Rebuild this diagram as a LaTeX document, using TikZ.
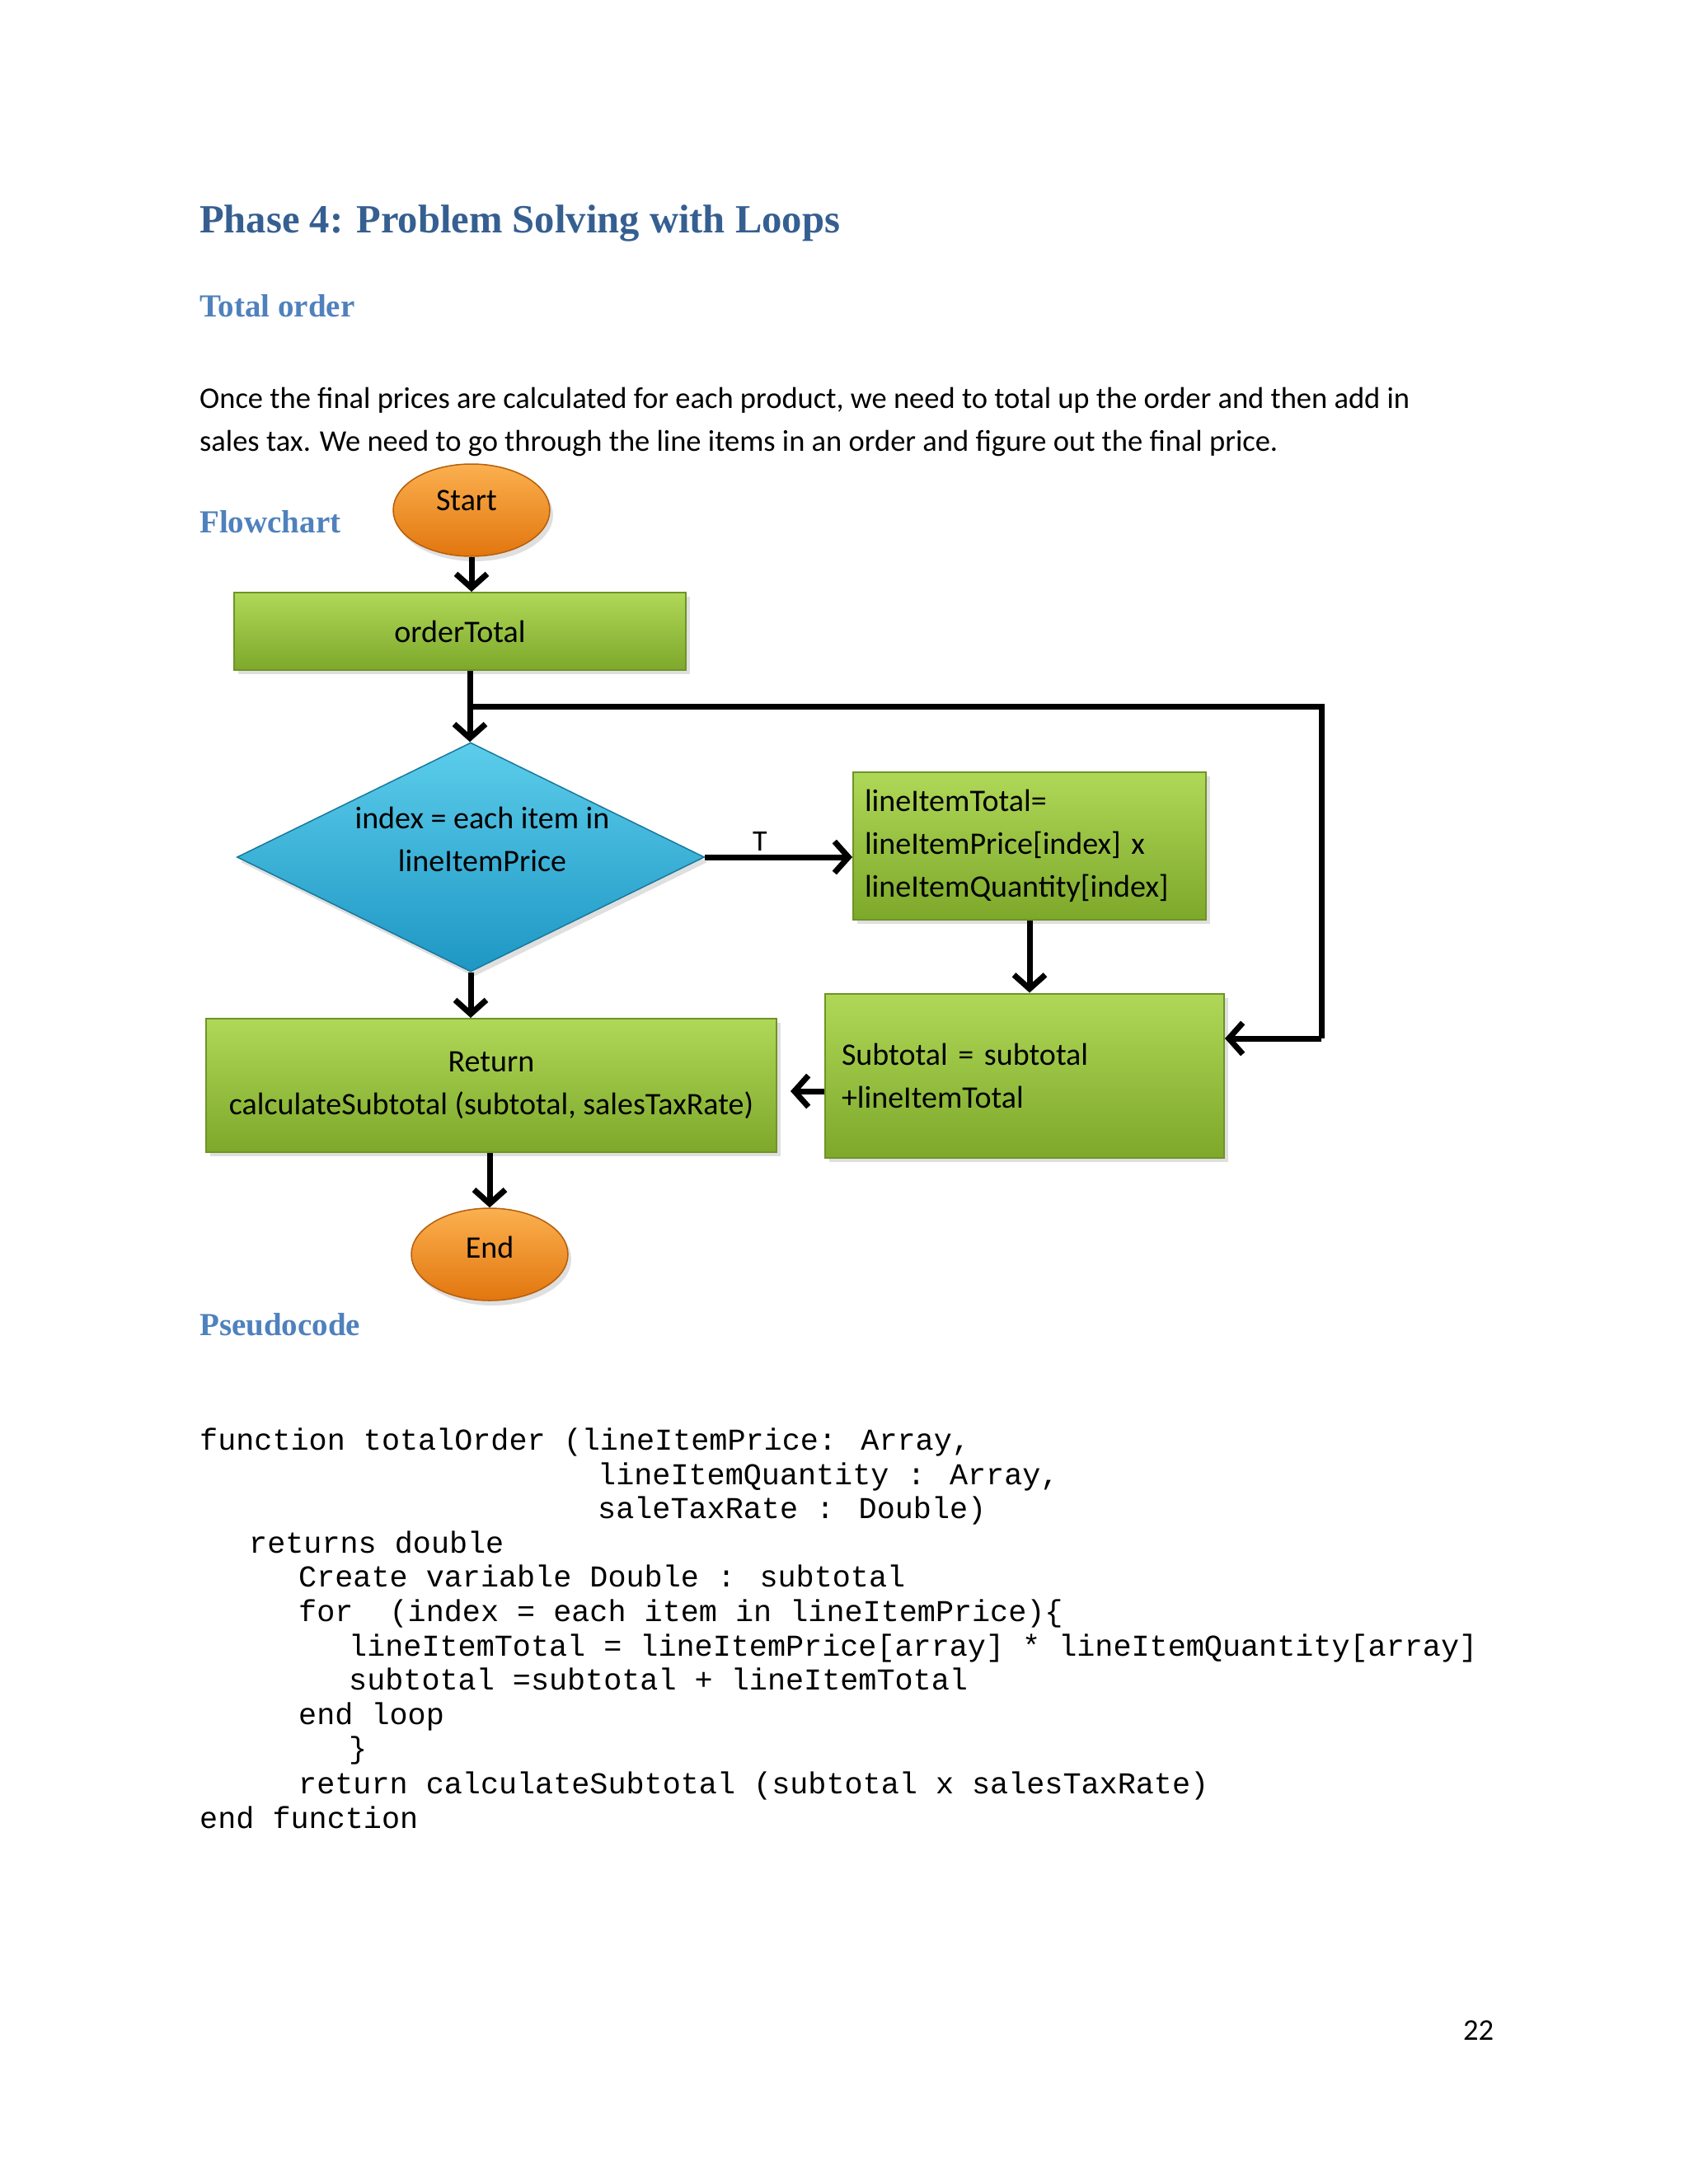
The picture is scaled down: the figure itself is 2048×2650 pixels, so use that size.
\documentclass[tikz,border=0pt]{standalone}
\usepackage{fontspec}
\setmainfont{Carlito}
\newfontfamily\headfont{Liberation Serif}
\newfontfamily\codefont{Liberation Mono}
\usetikzlibrary{shapes.geometric,arrows.meta,shadows}
\definecolor{titleblue}{HTML}{365F91}
\definecolor{headblue}{HTML}{4F81BD}
\definecolor{gtop}{HTML}{B0D858}
\definecolor{gbot}{HTML}{7DA82A}
\definecolor{gedge}{HTML}{6E9428}
\definecolor{btop}{HTML}{5CCDEB}
\definecolor{bbot}{HTML}{1E97C4}
\definecolor{otop}{HTML}{FBB04F}
\definecolor{obot}{HTML}{E2760E}
\tikzset{
  box/.style={rectangle, draw=gedge, line width=2pt, top color=gtop, bottom color=gbot,
    drop shadow={opacity=0.25, shadow xshift=5pt, shadow yshift=-5pt},
    font=\fontsize{38}{52}\selectfont, inner sep=0pt},
  term/.style={ellipse, draw=obot!80!black, line width=1.5pt, top color=otop, bottom color=obot,
    drop shadow={opacity=0.25, shadow xshift=4pt, shadow yshift=-6pt},
    minimum width=190pt, minimum height=112pt, inner sep=0pt},
  termtext/.style={font=\fontsize{38}{40}\selectfont, inner sep=0pt},
  dec/.style={diamond, draw=bbot!80!black, line width=1.5pt, top color=btop, bottom color=bbot,
    drop shadow={opacity=0.25, shadow xshift=4pt, shadow yshift=-6pt},
    minimum width=567pt, minimum height=278pt, inner sep=0pt, aspect=2.04},
  arr/.style={line width=7pt, -{Straight Barb[length=17pt,width=38pt,line width=7pt]}},
  ln/.style={line width=7pt},
  h1/.style={anchor=base west, font=\headfont\bfseries\fontsize{48.6}{50}\selectfont, text=titleblue, inner sep=0pt},
  h2/.style={anchor=base west, font=\headfont\bfseries\fontsize{39}{40}\selectfont, text=headblue, inner sep=0pt},
  body/.style={anchor=base west, font=\fontsize{36.5}{40}\selectfont, inner sep=0pt},
  code/.style={anchor=base west, font=\codefont\fontsize{36.8}{40}\selectfont, inner sep=0pt},
}
\begin{document}
\begin{tikzpicture}[x=1pt,y=-1pt]
\fill[white] (0,0) rectangle (2048,2650);
\useasboundingbox (0,0) rectangle (2048,2650);

\node[h1] (title) at (242,282) {Phase 4: Problem Solving with Loops};
\node[h2] (total) at (242,384) {Total order};
\node[body] (p1) at (242,495) {Once the final prices are calculated for each product, we need to total up the order and then add in};
\node[body] (p2) at (242,547) {sales tax. We need to go through the line items in an order and figure out the final price.};
\node[h2] (fc) at (242,646) {Flowchart};
\node[h2] (pc) at (242,1620) {Pseudocode};

% flowchart
\node[term] (start) at (572,619) {};
\node[termtext] (starttext) at (566,607) {Start};
\node[box, minimum width=548pt, minimum height=94pt] (ot) at (558,766) {orderTotal};
\node[dec] (d) at (571,1040) {};
\node[font=\fontsize{38}{52}\selectfont, align=center, inner sep=0pt] (dtext) at (585,1018) {index = each item in\\lineItemPrice};
\node[box, minimum width=428pt, minimum height=179pt, align=left, text width=400pt] (lit) at (1249,1026)
  {lineItemTotal=\\lineItemPrice[index] x\\lineItemQuantity[index]};
\node[box, minimum width=484pt, minimum height=199pt, align=left, text width=444pt] (sub) at (1243,1305)
  {Subtotal = subtotal\\+lineItemTotal};
\node[box, minimum width=692pt, minimum height=162pt, align=center] (ret) at (596,1317)
  {Return\\calculateSubtotal (subtotal, salesTaxRate)};
\node[term] (end) at (594,1522) {};
\node[termtext] (endtext) at (594,1513) {End};
\coordinate (j) at (570,857);
\coordinate (rc) at (1603,857);
\coordinate (rd) at (1603,1260);

\draw[arr] (start.south) -- (start.south |- ot.north);
\draw[arr] (ot.south -| j) -- (j |- d.north);
\draw[ln] (j) -- (rc) -- (rd);
\draw[arr] (rd) -- (rd -| sub.east);
\draw[arr] (d.east) -- (d.east -| lit.west);
\node[font=\fontsize{36}{36}\selectfont, inner sep=0pt, anchor=base] (t) at (922,1032) {T};
\draw[arr] (lit.south) -- (lit.south |- sub.north);
\draw[arr] (sub.west |- 0,1324) -- (959,1324);
\draw[arr] (d.south) -- (d.south |- ret.north);
\draw[arr] (ret.south -| end) -- (end.north);

% pseudocode
\node[code] (c1) at (242,1759) {function totalOrder (lineItemPrice: Array,};
\node[code] (c2) at (725,1801) {lineItemQuantity : Array,};
\node[code] (c3) at (725,1842) {saleTaxRate : Double)};
\node[code] (c4) at (302,1884) {returns double};
\node[code] (c5) at (362,1925) {Create variable Double : subtotal};
\node[code] (c6) at (362,1967) {for\ \ (index = each item in lineItemPrice)\{};
\node[code] (c7) at (423,2009) {lineItemTotal = lineItemPrice[array] * lineItemQuantity[array]};
\node[code] (c8) at (423,2050) {subtotal =subtotal + lineItemTotal};
\node[code] (c9) at (362,2092) {end loop};
\node[code] (c10) at (423,2133) {\}};
\node[code] (c11) at (362,2176) {return calculateSubtotal (subtotal x salesTaxRate)};
\node[code] (c12) at (242,2218) {end function};

\node[body] (pg) at (1775,2475) {22};
\end{tikzpicture}
\end{document}
